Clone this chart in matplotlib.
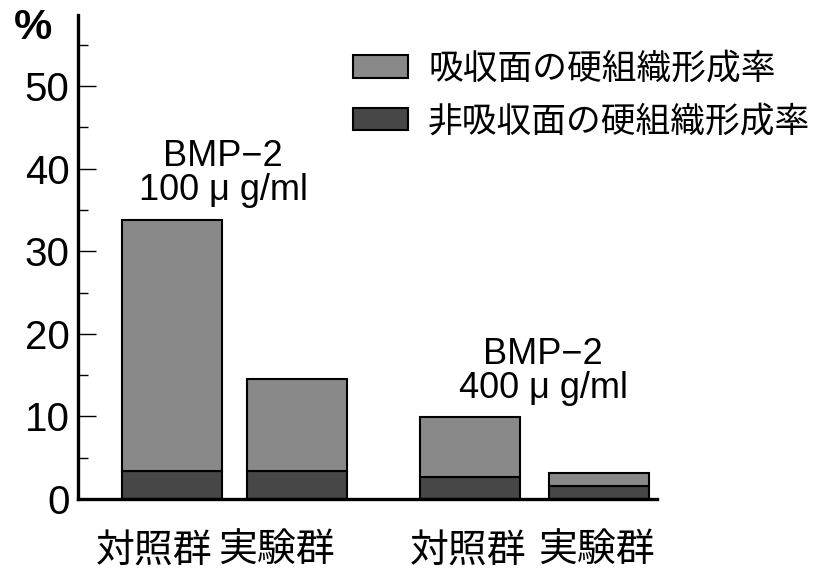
import matplotlib
matplotlib.use('Agg')
import matplotlib.pyplot as plt
import matplotlib.transforms as mtransforms
from matplotlib.ticker import MultipleLocator

plt.rcParams['font.family'] = ['Liberation Sans', 'Noto Sans CJK JP', 'DejaVu Sans']

# データ
groups = ['対照群', '実験群', '対照群', '実験群']
positions = [0.0, 1.245, 2.98, 4.27]
non_resorb = [3.4, 3.4, 2.7, 1.6]      # 非吸収面の硬組織形成率
total = [33.8, 14.5, 9.9, 3.1]          # 合計
resorb = [t - n for t, n in zip(total, non_resorb)]  # 吸収面の硬組織形成率
series_names = ['吸収面の硬組織形成率', '非吸収面の硬組織形成率']
doses = ['BMP−2\n100 μ g/ml', 'BMP−2\n400 μ g/ml']

fig = plt.figure(figsize=(8.21, 5.78), dpi=100)
ax = fig.add_axes([78 / 821, 1 - 499 / 578, (657 - 78) / 821, (499 - 15) / 578])

top_color = '#898989'
bottom_color = '#474747'

b_bot = ax.bar(positions, non_resorb, width=1.0, color=bottom_color,
               edgecolor='black', linewidth=1.5, zorder=2)
b_top = ax.bar(positions, resorb, width=1.0, bottom=non_resorb, color=top_color,
               edgecolor='black', linewidth=1.5, zorder=2)

ax.set_xlim(-0.94, 4.85)
ax.set_ylim(0, 58.6)

# 軸
for side in ['top', 'right']:
    ax.spines[side].set_visible(False)
ax.spines['left'].set_linewidth(2.4)
ax.spines['bottom'].set_linewidth(2.4)

ax.yaxis.set_major_locator(MultipleLocator(10))
ax.yaxis.set_minor_locator(MultipleLocator(5))
ax.set_yticks([0, 10, 20, 30, 40, 50])
ax.tick_params(axis='y', which='major', direction='in', length=13, width=1.0,
               labelsize=29, pad=6)
ax.tick_params(axis='y', which='minor', direction='in', length=7, width=1.0)

ax.set_xticks(positions)
ax.set_xticklabels(groups, fontsize=28)
ax.tick_params(axis='x', length=0, pad=25)
# 左の群のラベルは少し左寄り
shifts = [-18, -20, -2, -3]
for lbl, dx in zip(ax.get_xticklabels(), shifts):
    lbl.set_transform(lbl.get_transform() +
                      mtransforms.ScaledTranslation(dx / 100, 0, fig.dpi_scale_trans))

fig.text(33 / 821, 1 - 28 / 578, '%', fontsize=31, fontweight='bold',
         ha='center', va='center')

# 注釈
ax.text(0.51, 39.4, doses[0], fontsize=26, ha='center', va='center',
        linespacing=0.95)
ax.text(3.71, 15.4, doses[1], fontsize=26, ha='center', va='center',
        linespacing=0.95)

ax.legend([b_top, b_bot], series_names, loc='upper left',
          bbox_to_anchor=(0.475, 0.922), frameon=False,
          fontsize=25, handlelength=1.58, handleheight=0.63, handletextpad=0.58,
          labelspacing=0.56, borderaxespad=0, borderpad=0)

fig.savefig('out.png', dpi=100)
